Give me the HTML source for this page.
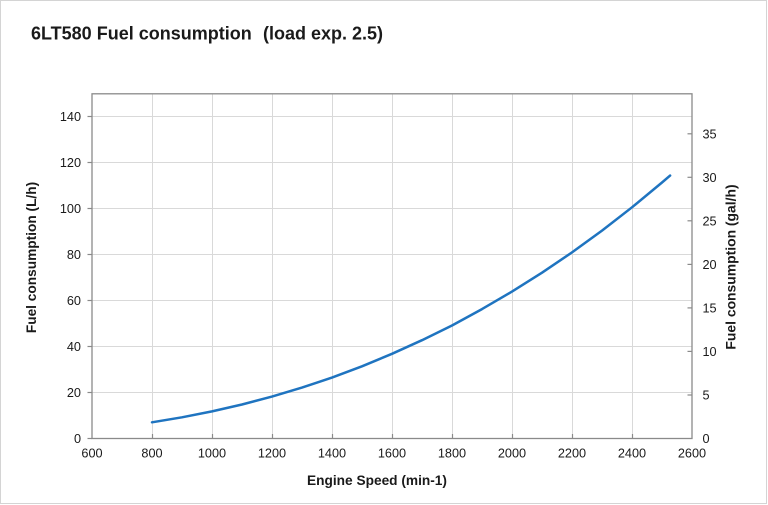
<!DOCTYPE html>
<html>
<head>
<meta charset="utf-8">
<style>
  html, body { margin: 0; padding: 0; background: #ffffff; }
  body { width: 768px; height: 505px; overflow: hidden; }
  svg { display: block; }
  text { font-family: "Liberation Sans", Arial, sans-serif; fill: #1a1a1a; }
</style>
</head>
<body>
<svg width="768" height="505" viewBox="0 0 768 505" xmlns="http://www.w3.org/2000/svg">
  <!-- outer frame -->
  <rect x="0.5" y="0.5" width="766" height="503" fill="#ffffff" stroke="#d4d4d4" stroke-width="1"/>

  <!-- title -->
  <text x="31" y="39.3" font-size="18" font-weight="bold">6LT580 Fuel consumption</text>
  <text x="263" y="39.3" font-size="18" font-weight="bold">(load exp. 2.5)</text>

  <!-- gridlines -->
  <g stroke="#d9d9d9" stroke-width="1">
    <line x1="152.5" y1="94" x2="152.5" y2="438"/>
    <line x1="212.5" y1="94" x2="212.5" y2="438"/>
    <line x1="272.5" y1="94" x2="272.5" y2="438"/>
    <line x1="332.5" y1="94" x2="332.5" y2="438"/>
    <line x1="392.5" y1="94" x2="392.5" y2="438"/>
    <line x1="452.5" y1="94" x2="452.5" y2="438"/>
    <line x1="512.5" y1="94" x2="512.5" y2="438"/>
    <line x1="572.5" y1="94" x2="572.5" y2="438"/>
    <line x1="632.5" y1="94" x2="632.5" y2="438"/>
    <line x1="92" y1="392.5" x2="692" y2="392.5"/>
    <line x1="92" y1="346.5" x2="692" y2="346.5"/>
    <line x1="92" y1="300.5" x2="692" y2="300.5"/>
    <line x1="92" y1="254.5" x2="692" y2="254.5"/>
    <line x1="92" y1="208.5" x2="692" y2="208.5"/>
    <line x1="92" y1="162.5" x2="692" y2="162.5"/>
    <line x1="92" y1="116.5" x2="692" y2="116.5"/>
  </g>

  <!-- plot frame -->
  <rect x="92" y="93.8" width="600" height="344.7" fill="none" stroke="#8a8a8a" stroke-width="1.3"/>

  <!-- left ticks (outward) -->
  <g stroke="#8a8a8a" stroke-width="1.2">
    <line x1="87.5" y1="438.5" x2="92" y2="438.5"/>
    <line x1="87.5" y1="392.5" x2="92" y2="392.5"/>
    <line x1="87.5" y1="346.5" x2="92" y2="346.5"/>
    <line x1="87.5" y1="300.5" x2="92" y2="300.5"/>
    <line x1="87.5" y1="254.5" x2="92" y2="254.5"/>
    <line x1="87.5" y1="208.5" x2="92" y2="208.5"/>
    <line x1="87.5" y1="162.5" x2="92" y2="162.5"/>
    <line x1="87.5" y1="116.5" x2="92" y2="116.5"/>
  </g>
  <!-- bottom ticks (inward) -->
  <g stroke="#8a8a8a" stroke-width="1.2">
    <line x1="152.5" y1="434" x2="152.5" y2="438.5"/>
    <line x1="212.5" y1="434" x2="212.5" y2="438.5"/>
    <line x1="272.5" y1="434" x2="272.5" y2="438.5"/>
    <line x1="332.5" y1="434" x2="332.5" y2="438.5"/>
    <line x1="392.5" y1="434" x2="392.5" y2="438.5"/>
    <line x1="452.5" y1="434" x2="452.5" y2="438.5"/>
    <line x1="512.5" y1="434" x2="512.5" y2="438.5"/>
    <line x1="572.5" y1="434" x2="572.5" y2="438.5"/>
    <line x1="632.5" y1="434" x2="632.5" y2="438.5"/>
  </g>
  <!-- right ticks (inward) -->
  <g stroke="#8a8a8a" stroke-width="1.2">
    <line x1="687.5" y1="395" x2="692" y2="395"/>
    <line x1="687.5" y1="351.4" x2="692" y2="351.4"/>
    <line x1="687.5" y1="307.9" x2="692" y2="307.9"/>
    <line x1="687.5" y1="264.4" x2="692" y2="264.4"/>
    <line x1="687.5" y1="220.8" x2="692" y2="220.8"/>
    <line x1="687.5" y1="177.3" x2="692" y2="177.3"/>
    <line x1="687.5" y1="133.8" x2="692" y2="133.8"/>
  </g>

  <!-- left tick labels -->
  <g font-size="12.7" text-anchor="end">
    <text x="81" y="443">0</text>
    <text x="81" y="397">20</text>
    <text x="81" y="351">40</text>
    <text x="81" y="305">60</text>
    <text x="81" y="259">80</text>
    <text x="81" y="213">100</text>
    <text x="81" y="167">120</text>
    <text x="81" y="121">140</text>
  </g>

  <!-- bottom tick labels -->
  <g font-size="12.7" text-anchor="middle">
    <text x="92" y="457.3">600</text>
    <text x="152" y="457.3">800</text>
    <text x="212" y="457.3">1000</text>
    <text x="272" y="457.3">1200</text>
    <text x="332" y="457.3">1400</text>
    <text x="392" y="457.3">1600</text>
    <text x="452" y="457.3">1800</text>
    <text x="512" y="457.3">2000</text>
    <text x="572" y="457.3">2200</text>
    <text x="632" y="457.3">2400</text>
    <text x="692" y="457.3">2600</text>
  </g>

  <!-- right tick labels -->
  <g font-size="12.7" text-anchor="start">
    <text x="702.5" y="443">0</text>
    <text x="702.5" y="399.5">5</text>
    <text x="702.5" y="355.9">10</text>
    <text x="702.5" y="312.4">15</text>
    <text x="702.5" y="268.9">20</text>
    <text x="702.5" y="225.3">25</text>
    <text x="702.5" y="181.8">30</text>
    <text x="702.5" y="138.3">35</text>
  </g>

  <!-- axis titles -->
  <text x="377" y="485" font-size="13.7" font-weight="bold" text-anchor="middle">Engine Speed (min-1)</text>
  <text transform="translate(36,257.5) rotate(-90)" font-size="13.7" font-weight="bold" text-anchor="middle">Fuel consumption (L/h)</text>
  <text transform="translate(735.5,267) rotate(-90)" font-size="13.9" font-weight="bold" text-anchor="middle">Fuel consumption (gal/h)</text>

  <!-- series -->
  <polyline fill="none" stroke="#1f74c0" stroke-width="2.5" stroke-linejoin="round" stroke-linecap="round"
    points="152,422.3 182,417.3 212,411.4 242,404.5 272,396.6 302,387.6 332,377.6 362,366.3 392,353.8 422,340.2 452,325.5 482,309.1 512,291.6 542,272.7 572,252.4 602,230.6 632,207.3 662,182.5 670.1,175.6"/>
</svg>
</body>
</html>
